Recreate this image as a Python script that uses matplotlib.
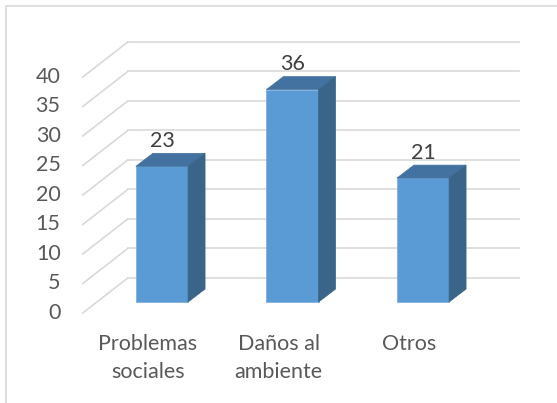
import matplotlib
matplotlib.use("Agg")
import matplotlib.pyplot as plt
from matplotlib.patches import Polygon, Rectangle

categories = ["Problemas\nsociales", "Daños al\nambiente", "Otros"]
values = [23, 36, 21]
yticks = [0, 5, 10, 15, 20, 25, 30, 35, 40]

FRONT = "#5B9BD5"
TOP = "#4472A0"
SIDE = "#3A6488"
GRID = "#D9D9D9"
INK = "#595959"
LABEL = "#404040"

# depth offsets in data units (x: category units, y: value units)
WALL_DX, WALL_DY = 0.2375, 4.07     # back wall relative to bar front plane
FLOOR_DX, FLOOR_DY = -0.107, -1.86  # front edge relative to bar front plane
BAR_DX, BAR_DY = 0.13, 2.2
BAR_W = 0.4

plt.rcParams["font.family"] = ["Lato", "DejaVu Sans"]
FS = 15.5

W, H = 557, 403
fig = plt.figure(figsize=(W / 100, H / 100), dpi=100)
ax = fig.add_axes([96.75 / W, 101 / H, 391.5 / W, 265.5 / H])
ax.set_xlim(-0.5, 2.5)
ax.set_ylim(0, 45)
ax.axis("off")

# back wall gridlines + side wall diagonals
for v in yticks:
    ax.plot([-0.5 + WALL_DX, 2.5 + WALL_DX], [v + WALL_DY] * 2,
            color=GRID, lw=1.2, clip_on=False, zorder=1)
    ax.plot([-0.5 + FLOOR_DX, -0.5 + WALL_DX], [v + FLOOR_DY, v + WALL_DY],
            color=GRID, lw=1.2, clip_on=False, zorder=1)
    ax.text(-0.5 + FLOOR_DX - 0.17, v + FLOOR_DY, str(v), ha="right",
            va="center", fontsize=FS, color=INK)

x = list(range(len(values)))
ax.bar(x, values, width=BAR_W, color=FRONT, edgecolor="#7FB0DE",
       linewidth=0.6, zorder=3, clip_on=False)
for xi, v in zip(x, values):
    l, r = xi - BAR_W / 2, xi + BAR_W / 2
    ax.add_patch(Polygon([(l, v), (r, v), (r + BAR_DX, v + BAR_DY),
                          (l + BAR_DX, v + BAR_DY)], closed=True,
                         fc=TOP, ec=TOP, lw=0.5, zorder=3, clip_on=False))
    ax.add_patch(Polygon([(r, 0), (r + BAR_DX, BAR_DY), (r + BAR_DX, v + BAR_DY),
                          (r, v)], closed=True,
                         fc=SIDE, ec=SIDE, lw=0.5, zorder=3, clip_on=False))
    ax.text(xi, v + 4.3, str(v), ha="center", va="center", fontsize=FS,
            color=LABEL, zorder=4)
    ax.text(xi + FLOOR_DX, -5.5, categories[xi], ha="center", va="top",
            fontsize=FS, color=INK, linespacing=1.45)

# chart area border (cut off on the right and bottom)
fig.patches.append(Rectangle((6 / W, -0.1), 1.2, (H - 6) / H + 0.1,
                             transform=fig.transFigure, fill=False,
                             ec=GRID, lw=1.2))

fig.savefig("out.png", dpi=100, facecolor="white")
